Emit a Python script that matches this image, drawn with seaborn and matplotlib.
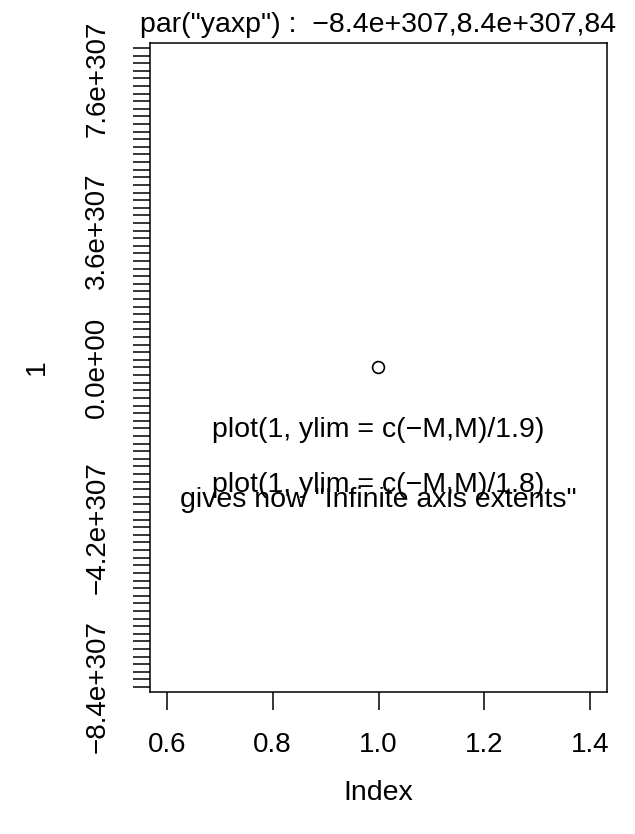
import numpy as np
import pandas as pd
import matplotlib
matplotlib.use("Agg")
import matplotlib.pyplot as plt
import seaborn as sns

# ---- data ----
SCALE = 1e307                      # y values shown in units of 1e307
x_index = [1]
y_values = [1]
yaxp = (-8.4e307, 8.4e307, 84)     # par("yaxp")
y_label_values = [-8.4e307, -4.2e307, 0.0, 3.6e307, 7.6e307]
y_label_texts = ["\u22128.4e+307", "\u22124.2e+307", "0.0e+00", "3.6e+307", "7.6e+307"]
x_ticks = [0.6, 0.8, 1.0, 1.2, 1.4]
x_tick_labels = ["0.6", "0.8", "1.0", "1.2", "1.4"]
title_text = 'par("yaxp") :  \u22128.4e+307,8.4e+307,84'
notes = ["plot(1, ylim = c(\u2212M,M)/1.9)",
         "plot(1, ylim = c(\u2212M,M)/1.8)",
         'gives now "Infinite axis extents"']
note_y = [-1.83e307, -3.27e307, -3.67e307]

sns.set_style("white")
plt.rcParams['font.family'] = ['Liberation Sans', 'DejaVu Sans']
for k in ["text.color", "axes.labelcolor", "xtick.color", "ytick.color"]:
    plt.rcParams[k] = "black"

FS_T = 20.5
FS_K = 20

W, H = 635, 834
fig = plt.figure(figsize=(W / 100, H / 100), dpi=100)
L, R, T, B = 150, 607, 43, 692
ax = fig.add_axes([L / W, 1 - B / H, (R - L) / W, (B - T) / H])

df = pd.DataFrame({"x": x_index, "y": np.array(y_values, float) / SCALE})
sns.scatterplot(data=df, x="x", y="y", ax=ax, marker="o", s=8.5 ** 2,
                facecolors="none", edgecolor="black", linewidth=1.2, zorder=3)

ax.set_xlim(0.5685, 1.4315)
ax.set_ylim(-8.53, 8.53)

ax.set_xticks(x_ticks)
ax.set_xticklabels(x_tick_labels, fontsize=FS_K)

yt = np.linspace(yaxp[0], yaxp[1], yaxp[2] + 1)
labels = [""] * len(yt)
for v, s in zip(y_label_values, y_label_texts):
    i = int(np.argmin(np.abs(yt - v)))
    labels[i] = s
ax.set_yticks(yt / SCALE)
ax.set_yticklabels(labels, rotation=90, va="center", fontsize=FS_K)

ax.tick_params(axis="x", which="major", direction="out", length=13, width=1.1,
               color="black", pad=16, bottom=True)
ax.tick_params(axis="y", which="major", direction="out", length=12.2, width=1.1,
               color="black", pad=16.5, left=True)

for s in ax.spines.values():
    s.set_visible(True)
    s.set_color("black")
    s.set_linewidth(1.1)

ax.set_xlabel("Index", fontsize=FS_T, labelpad=15.5)
ax.set_ylabel("1", fontsize=FS_T, labelpad=25)

for t, yv in zip(notes, note_y):
    ax.text(1.0, yv / SCALE, t, ha="center", va="baseline", fontsize=FS_T)

fig.text(378 / W, 1 - 32 / H, title_text, ha="center", va="baseline", fontsize=FS_T)

fig.savefig("out.png", dpi=100, facecolor="white")
